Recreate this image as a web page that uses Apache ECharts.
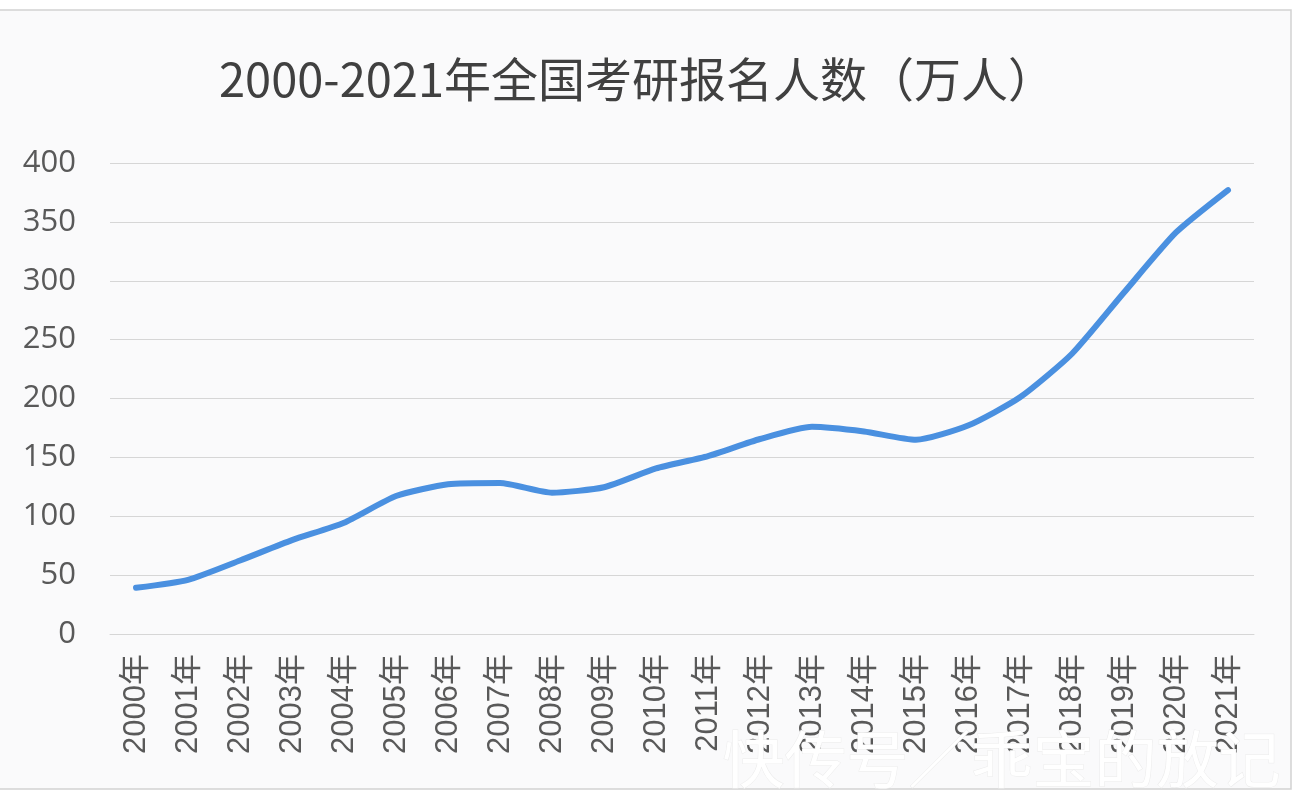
<!DOCTYPE html>
<html>
<head>
<meta charset="utf-8">
<script src="https://cdn.jsdelivr.net/npm/echarts@6/dist/echarts.min.js"></script>
<style>
html,body{margin:0;padding:0;background:#ffffff;}
#chart{width:1300px;height:803px;}
</style>
</head>
<body>
<div id="chart"></div>
<script>
const titleText = '2000-2021年全国考研报名人数（万人）';
const years = ['2000年','2001年','2002年','2003年','2004年','2005年','2006年','2007年','2008年','2009年','2010年',
  '2011年','2012年','2013年','2014年','2015年','2016年','2017年','2018年','2019年','2020年','2021年'];
const applicants = [39.2, 46, 62.4, 79.7, 94.5, 117.2, 127.1, 128.2, 120, 124.6, 140.6,
  151.1, 165.6, 176, 172, 164.9, 177, 201, 238, 290, 341, 377];
const watermark = '快传号／乖宝的放记';

const font = '"Noto Sans CJK SC", "Noto Sans", sans-serif';
const labelFont = '"Liberation Sans", "Noto Sans CJK SC", sans-serif';
const chart = echarts.init(document.getElementById('chart'), null, {renderer: 'canvas'});
chart.setOption({
  backgroundColor: '#ffffff',
  animation: false,
  title: {
    text: titleText,
    left: 632,
    textAlign: 'center',
    top: 51,
    textStyle: {fontFamily: font, fontSize: 47, fontWeight: 'normal', color: '#404040'}
  },
  graphic: [
    {type: 'rect', z: -10, silent: true,
      shape: {x: -2, y: 10, width: 1293, height: 779},
      style: {fill: '#fafafb', stroke: '#d2d2d2', lineWidth: 1.5}},
    {type: 'text', z: 100, silent: true, left: 722, top: 728,
      style: {text: watermark, fontFamily: font, fontSize: 62, fill: '#ffffff',
        stroke: '#ececec', lineWidth: 1}}
  ],
  grid: {left: 110, right: 46, top: 163, bottom: 169, containLabel: false},
  xAxis: {
    type: 'category',
    data: years,
    boundaryGap: true,
    axisLine: {lineStyle: {color: '#d6d6d6', width: 1}},
    axisTick: {show: false},
    axisLabel: {rotate: 90, margin: 20, fontFamily: labelFont, fontSize: 31, color: '#595959', interval: 0}
  },
  yAxis: {
    type: 'value',
    min: 0, max: 400, interval: 50,
    axisLine: {show: false},
    axisTick: {show: false},
    splitLine: {lineStyle: {color: '#d6d6d6', width: 1}},
    axisLabel: {margin: 34, fontFamily: '"Open Sans", sans-serif', fontSize: 31, color: '#595959'}
  },
  series: [{
    type: 'line',
    data: applicants,
    smooth: 0.2,
    symbol: 'none',
    lineStyle: {color: '#4a90e0', width: 6, cap: 'round', join: 'round'}
  }]
});
</script>
</body>
</html>
